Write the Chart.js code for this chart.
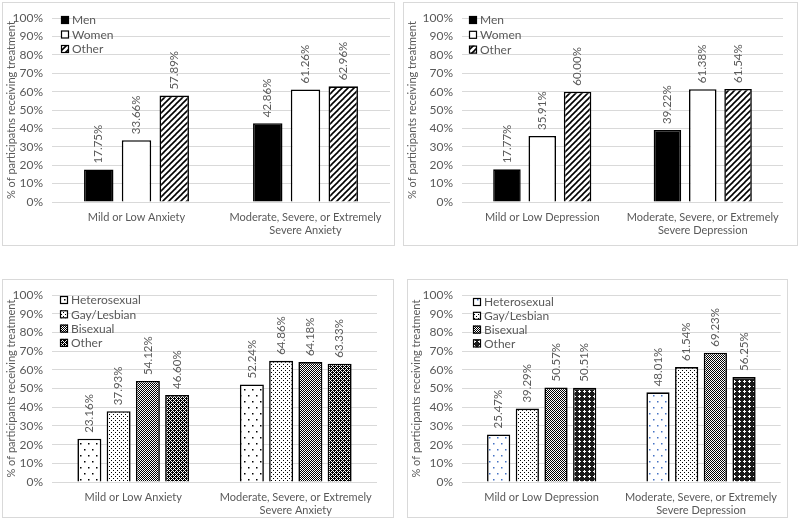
<!DOCTYPE html>
<html><head><meta charset="utf-8">
<script src="https://cdn.jsdelivr.net/npm/chart.js@4.4.0/dist/chart.umd.min.js"></script>
<style>
html,body{margin:0;padding:0;background:#fff;width:800px;height:528px;overflow:hidden}
.frame{position:absolute;border:1px solid #d9d9d9;box-sizing:border-box}
canvas{position:absolute}
</style></head><body>
<div class="frame" style="left:2px;top:2px;width:393px;height:244px"></div>
<div class="frame" style="left:403px;top:2px;width:395px;height:244px"></div>
<div class="frame" style="left:2px;top:279px;width:392px;height:239px"></div>
<div class="frame" style="left:407px;top:279px;width:381px;height:239px"></div>
<canvas id="c1" width="392" height="244" style="left:2px;top:2px"></canvas>
<canvas id="c2" width="394" height="244" style="left:403px;top:2px"></canvas>
<canvas id="c3" width="391" height="238" style="left:2px;top:279px"></canvas>
<canvas id="c4" width="380" height="238" style="left:407px;top:279px"></canvas>
<script>
// ---------- data ----------
const anxietyCategories = [['Mild or Low Anxiety'], ['Moderate, Severe, or Extremely', 'Severe Anxiety']];
const depressionCategories = [['Mild or Low Depression'], ['Moderate, Severe, or Extremely', 'Severe Depression']];
const genderSeries = ['Men', 'Women', 'Other'];
const orientationSeries = ['Heterosexual', 'Gay/Lesbian', 'Bisexual', 'Other'];
const yTickLabels = ['0%','10%','20%','30%','40%','50%','60%','70%','80%','90%','100%'];

const genderAnxietyMen = [17.75, 42.86];
const genderAnxietyWomen = [33.66, 61.26];
const genderAnxietyOther = [57.89, 62.96];

const genderDepressionMen = [17.77, 39.22];
const genderDepressionWomen = [35.91, 61.38];
const genderDepressionOther = [60.00, 61.54];

const orientAnxietyHet = [23.16, 52.24];
const orientAnxietyGay = [37.93, 64.86];
const orientAnxietyBi = [54.12, 64.18];
const orientAnxietyOther = [46.60, 63.33];

const orientDepressionHet = [25.47, 48.01];
const orientDepressionGay = [39.29, 61.54];
const orientDepressionBi = [50.57, 69.23];
const orientDepressionOther = [50.51, 56.25];

// ---------- patterns ----------
function tile(w, h, draw) {
  const c = document.createElement('canvas'); c.width = w; c.height = h;
  const g = c.getContext('2d'); draw(g, w, h);
  return document.createElement('canvas').getContext('2d').createPattern(c, 'repeat');
}
function bitmap(rows, on, off) {
  return tile(rows[0].length, rows.length, (g) => {
    rows.forEach((r, y) => [...r].forEach((ch, x) => {
      g.fillStyle = ch === 'B' ? on : off; g.fillRect(x, y, 1, 1);
    }));
  });
}
const pHatch = tile(6, 6, (g) => {
  g.fillStyle = '#fff'; g.fillRect(0, 0, 6, 6);
  g.strokeStyle = '#000'; g.lineWidth = 1.6;
  [-6, 0, 6].forEach(o => { g.beginPath(); g.moveTo(o - 1, 7); g.lineTo(o + 7, -1); g.stroke(); });
});
const pSparse = (col) => tile(8, 12, (g) => {
  g.fillStyle = '#fff'; g.fillRect(0, 0, 8, 12);
  g.fillStyle = col; g.fillRect(2, 2, 1.5, 1.5); g.fillRect(6, 8, 1.5, 1.5);
});
const pDots = tile(4, 4, (g) => {
  g.fillStyle = '#fff'; g.fillRect(0, 0, 4, 4);
  g.fillStyle = '#000'; g.fillRect(1, 1, 1, 1); g.fillRect(3, 3, 1, 1);
});
const pDiamond = bitmap(['BWBW', 'WBWB', 'BWBW', 'WBWB'].map((r, y) =>
  [...r].map((c, x) => ((x + y) % 4 === 0 || (x - y + 4) % 4 === 0 || (x === 0 && y === 2) || (x === 2 && y === 0)) ? 'B' : 'W').join('')), '#000', '#fff');
const pChecker = bitmap(['BWBW', 'WBBB', 'BWBW', 'BBWB'], '#000', '#fff');
const pDarkCross = tile(5, 5, (g) => {
  g.fillStyle = '#1a1a1a'; g.fillRect(0, 0, 5, 5);
  g.fillStyle = '#fff'; g.fillRect(2, 1, 1, 3); g.fillRect(1, 2, 3, 1);
});

// ---------- plugins ----------
const FONT = 'Lato, "Open Sans", sans-serif';
const GRAY = '#595959';
const valueLabels = {
  id: 'valueLabels',
  afterDatasetsDraw(chart) {
    const ctx = chart.ctx;
    ctx.save();
    ctx.font = '11.5px ' + FONT; ctx.fillStyle = GRAY;
    chart.data.datasets.forEach((ds, i) => {
      chart.getDatasetMeta(i).data.forEach((bar, j) => {
        ctx.save(); ctx.translate(bar.x, bar.y - 6); ctx.rotate(-Math.PI / 2);
        ctx.textAlign = 'left'; ctx.textBaseline = 'middle';
        ctx.fillText(ds.data[j].toFixed(2) + '%', 0, 0);
        ctx.restore();
      });
    });
    ctx.restore();
  }
};
const insideLegend = {
  id: 'insideLegend',
  afterDraw(chart, args, o) {
    const ctx = chart.ctx;
    ctx.save();
    ctx.font = '12px ' + FONT; ctx.textBaseline = 'middle'; ctx.textAlign = 'left';
    chart.data.datasets.forEach((ds, i) => {
      const cy = o.y + i * o.step;
      ctx.fillStyle = ds.backgroundColor;
      ctx.fillRect(o.x, cy - o.box / 2, o.box, o.box);
      ctx.strokeStyle = '#000'; ctx.lineWidth = 1.2;
      ctx.strokeRect(o.x + 0.5, cy - o.box / 2 + 0.5, o.box - 1, o.box - 1);
      ctx.fillStyle = GRAY;
      ctx.fillText(ds.label, o.x + o.box + 3, cy + 0.5);
    });
    ctx.restore();
  }
};

function makeChart(id, labels, series, values, fills, cfg) {
  const datasets = series.map((s, i) => ({
    label: s, data: values[i], backgroundColor: fills[i],
    borderColor: '#000', borderWidth: 1.6,
    categoryPercentage: cfg.cp, barPercentage: cfg.bp
  }));
  new Chart(document.getElementById(id), {
    type: 'bar',
    data: { labels, datasets },
    plugins: [valueLabels, insideLegend],
    options: {
      responsive: false, animation: false, devicePixelRatio: 1,
      layout: { padding: { left: 0, top: cfg.top, right: cfg.right, bottom: 0 } },
      plugins: {
        legend: { display: false }, tooltip: { enabled: false },
        insideLegend: cfg.legend
      },
      scales: {
        x: {
          grid: { display: false, drawTicks: false },
          border: { display: false },
          ticks: { color: GRAY, padding: 9, maxRotation: 0, autoSkip: false,
                   font: { family: FONT, size: 11, lineHeight: 1.18 } },
          afterFit: (s) => { s.height = cfg.xh; }
        },
        y: {
          min: 0, max: 100,
          grid: { color: '#d9d9d9', lineWidth: 1, drawTicks: false },
          border: { display: false },
          ticks: { stepSize: 10, color: GRAY, padding: 9,
                   font: { family: FONT, size: 12 },
                   callback: (v, idx) => yTickLabels[idx] },
          title: { display: true, text: cfg.title, color: GRAY,
                   font: { family: FONT, size: 11 }, padding: { top: 3, bottom: 0 } },
          afterFit: (s) => { s.width = cfg.yw; }
        }
      }
    }
  });
}

makeChart('c1', anxietyCategories, genderSeries,
  [genderAnxietyMen, genderAnxietyWomen, genderAnxietyOther],
  ['#000', '#fff', pHatch],
  { cp: 0.67, bp: 0.78, top: 13, right: 4, xh: 44, yw: 50,
    title: '% of participatns receiving treatment',
    legend: { x: 59, y: 18, step: 14.5, box: 8 } });

makeChart('c2', depressionCategories, genderSeries,
  [genderDepressionMen, genderDepressionWomen, genderDepressionOther],
  ['#000', '#fff', pHatch],
  { cp: 0.66, bp: 0.78, top: 13, right: 14, xh: 44, yw: 59,
    title: '% of participants receiving treatment',
    legend: { x: 66, y: 18, step: 14.8, box: 8 } });

makeChart('c3', anxietyCategories, orientationSeries,
  [orientAnxietyHet, orientAnxietyGay, orientAnxietyBi, orientAnxietyOther],
  [pSparse('#000'), pDots, pDiamond, pChecker],
  { cp: 0.72, bp: 0.82, top: 15, right: 16, xh: 35, yw: 50,
    title: '% of participants receiving treatment',
    legend: { x: 58, y: 21, step: 14.3, box: 8 } });

makeChart('c4', depressionCategories, orientationSeries,
  [orientDepressionHet, orientDepressionGay, orientDepressionBi, orientDepressionOther],
  [pSparse('#4472c4'), pDots, pDiamond, pDarkCross],
  { cp: 0.72, bp: 0.81, top: 15, right: 4, xh: 35, yw: 55,
    title: '% of participants receiving treatment',
    legend: { x: 66, y: 23, step: 13.8, box: 8 } });
</script>
</body></html>
